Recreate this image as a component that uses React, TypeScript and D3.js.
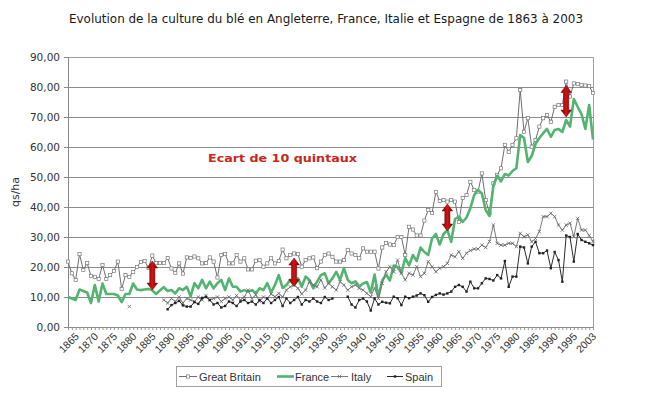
import React, { useRef, useEffect } from 'react';
import * as d3 from 'd3';

// categories: yearly from 1863 to 1995, then the last few available years
const years: string[] = [...d3.range(1863, 1996), 1999, 2000, 2001, 2002, 2003].map(String);

const greatBritain: (number | null)[] = [
    21.8, 17.9, 15.7, 24.3, 19, 21.3, 17, 16.7, 16, 20.7,
    16, 17.3, 18.7, 21.8, 12.7, 17.3, 16.7, 18.3, 20, 21.7,
    22, 19.7, 23.8, 21.3, 21.3, 21.3, 23, 19.5, 18, 21.2,
    17.8, 23.2, 23, 23.5, 22.9, 21.2, 21.3, 23.2, 21.8, 16.5,
    24, 24.3, 21.2, 21.2, 24, 21.8, 22.9, 19.2, 19.2, 22.1,
    22.3, 20.1, 21.2, 22.9, 21.2, 22, 25.8, 22.9, 24, 24.5,
    24.3, 20.1, 22.3, 22.9, 23.2, 19.6, 21.8, 24, 24.5, 23.4,
    21.8, 21.8, 22.3, 25.7, 24.5, 24, 22.9, 26.2, 25.1, 25.1,
    25.1, 19.5, 26.5, 28, 27.5, 27.3, 30, 30, 24, 33.4,
    32.5, 30.5, 30.5, 35.5, 39, 38, 45, 42, 42.3, 41.8,
    42.3, 41.8, 35, 43, 44, 48.4, 45.7, 45.1, 51.2, 42.3,
    37.9, 47.9, 50.7, 52.9, 60.7, 58.4, 60.7, 62.9, 79, 65.1,
    69.6, 60.1, 62.3, 66.8, 69.6, 70.7, 68.4, 73.4, 74, 74,
    81.8, 76.8, 81.2, 81, 80.7, 80.5, 80.3, 78,
];

const france: (number | null)[] = [
    10, 9.5, 9, 12.5, 12, 11.5, 8, 14, 8.5, 14.5,
    11, 11, 11, 10.5, 8.3, 11, 11, 14.5, 12.5, 12.3,
    12.5, 12.7, 12.2, 11, 12.2, 13.3, 12, 12.3, 11.2, 12.9,
    12.3, 13.4, 10.2, 14.6, 12.9, 15.7, 12.9, 15.1, 12.9, 14.6,
    15.7, 12.3, 16.2, 13.4, 13.4, 11.8, 12.3, 11.8, 12.3, 11.2,
    12.9, 12.3, 14.6, 11.5, 14, 17.3, 13, 14, 15.7, 14,
    16.2, 13.4, 16.8, 15.7, 12.9, 15.1, 17.3, 17.9, 14.6, 16.2,
    18.4, 15.7, 19.6, 15.7, 14.6, 15.2, 13.5, 14.5, 15, 11.5,
    17.5, 10, 15.5, 17.5, 15.5, 20.5, 20, 18, 23, 20.5,
    24, 22, 26.5, 25, 24, 29.5, 31, 27.5, 31, 32.3,
    28.4, 36, 36.8, 35, 36.5, 39.6, 44, 45.7, 44.5, 39,
    37, 47, 50.4, 48.5, 51, 50.5, 52, 52.9, 64, 63,
    55, 57, 61, 63, 64.6, 66, 63.4, 65.7, 66, 65,
    69, 66.8, 76, 73.4, 71, 66, 74, 62.5,
];

const italy: (number | null)[] = [
    null, null, null, null, null, null, null, null, null, null,
    null, null, null, null, null, null, 6.8, null, null, null,
    null, null, null, null, null, 9, 8, 9.5, 8.5, 10,
    8, 9.5, 9, 8.5, 10, 9, 10.5, 9, 9.5, 10,
    8.5, 9.5, 10, 9, 10.5, 9, 10, 12.3, 9.5, 10.7,
    8.5, 10, 9.5, 11, 10.1, 11.2, 10, 12.3, 13.4, 14,
    12.9, 11, 12.3, 15.1, 14, 13.4, 15.7, 13, 14.6, 13.4,
    12.3, 15.1, 14, 12.3, 13.4, 14, 12.9, 12.3, 11.2, 10.1,
    13, 9.5, 14.6, 18.4, 20.1, 18.4, 22.3, 17.9, 15.7, 17.9,
    17.3, 20.1, 16.8, 17.9, 21.8, 20.1, 18.4, 19.6, 20.1, 21.2,
    24, 23.4, 25.1, 22.9, 24.6, 25.5, 26, 26, 27.3, 26.5,
    28.5, 34, 27.9, 27.3, 27.3, 27.9, 27.9, 26.8, 31.2, 30.1,
    30.7, 28.4, 29.5, 31.8, 36.8, 36.8, 37.9, 36.8, 34, 32.3,
    34, 34.6, 30.1, 36.2, 32.3, 32.3, 30.5, 28.5,
];

const spain: (number | null)[] = [
    null, null, null, null, null, null, null, null, null, null,
    null, null, null, null, null, null, null, null, null, null,
    null, null, null, null, null, null, 5.9, 7.3, 8, 8.7,
    7.2, 6.8, 6.8, 8.3, 7.7, 9.7, 10, 9, 7.5, 8,
    6.5, 7, 8.5, 8, 7, 8.5, 9, 8, 8.5, 7.5,
    9, 8, 9.5, 8, 9, 10, 7, 9.5, 8, 9,
    10, 7.5, 9, 8.5, 9.5, 8.5, 8, 10, 9, 9.5,
    null, null, null, 10.1, 7.5, 6.5, 9, 9.5, 8.5, 5.5,
    9.5, 7.5, 8.4, 8.1, 7.9, 10.1, 9.6, 7.3, 10.1, 9.6,
    10.1, 10.5, 11.2, 10.6, 8.4, 10, 10.7, 11.2, 10.8, 11.2,
    11.8, 13.4, 14, 13.4, 11.8, 15.1, 12.9, 12.9, 14.6, 16.2,
    16, 15.5, 17.3, 16.2, 22, 13.4, 16.8, 16.8, 26.8, 26.5,
    21.2, 26.8, 28.4, 24.6, 24.6, 25.5, 19.6, 25, 22.3, 15.1,
    30.5, 30, 21.8, 31, 29, 28.4, 27.9, 27.3,
];

const xLabels = [
    '1865', '1870', '1875', '1880', '1885', '1890', '1895', '1900', '1905', '1910',
    '1915', '1920', '1925', '1930', '1935', '1940', '1945', '1950', '1955', '1960',
    '1965', '1970', '1975', '1980', '1985', '1990', '1995', '2003',
];
const yTicks = [0, 10, 20, 30, 40, 50, 60, 70, 80, 90];

// red double arrows showing the 10 quintal gap
const gapArrows = [
    { year: '1885', low: 12.3, high: 22 },
    { year: '1922', low: 13.5, high: 23 },
    { year: '1962', low: 32, high: 41 },
    { year: '1993', low: 70, high: 80.5 },
];

const seriesList = [
    { name: 'Great Britain', values: greatBritain, color: '#6e6e6e', width: 1, marker: 'square' },
    { name: 'France', values: france, color: '#52b46f', width: 2.6, marker: 'none' },
    { name: 'Italy', values: italy, color: '#7a7a7a', width: 1, marker: 'cross' },
    { name: 'Spain', values: spain, color: '#2a2a2a', width: 1, marker: 'dot' },
];

const App: React.FC = () => {
    const svgRef = useRef<SVGSVGElement | null>(null);

    useEffect(() => {
        if (!svgRef.current) return;
        const width = 662;
        const height = 397;
        const left = 68, right = 593, top = 57, bottom = 327;

        const svg = d3.select(svgRef.current);
        svg.selectAll('*').remove();
        svg.attr('width', width).attr('height', height);

        const x = d3.scalePoint<string>().domain(years).range([left, right]);
        const y = d3.scaleLinear().domain([0, 90]).range([bottom, top]);

        // gradient for arrows
        const grad = svg.append('defs').append('linearGradient')
            .attr('id', 'arrowGrad').attr('x1', '0%').attr('x2', '100%');
        grad.append('stop').attr('offset', '0%').attr('stop-color', '#7d0000');
        grad.append('stop').attr('offset', '50%').attr('stop-color', '#d41414');
        grad.append('stop').attr('offset', '100%').attr('stop-color', '#7d0000');

        // title
        svg.append('text')
            .attr('x', 326).attr('y', 23)
            .attr('text-anchor', 'middle')
            .attr('font-family', '"DejaVu Sans Condensed", "DejaVu Sans", sans-serif')
            .attr('font-size', 12)
            .attr('textLength', 514)
            .attr('lengthAdjust', 'spacingAndGlyphs')
            .attr('fill', '#1a1a1a')
            .text('Evolution de la culture du blé en Angleterre, France, Italie et Espagne de 1863 à 2003');

        // gridlines
        svg.append('g').selectAll('line')
            .data(yTicks.filter(t => t > 0))
            .join('line')
            .attr('x1', left).attr('x2', right)
            .attr('y1', d => y(d)).attr('y2', d => y(d))
            .attr('stroke', '#8c8c8c').attr('stroke-width', 1)
            .attr('shape-rendering', 'crispEdges');

        // plot border
        svg.append('rect')
            .attr('x', left).attr('y', top)
            .attr('width', right - left).attr('height', bottom - top)
            .attr('fill', 'none').attr('stroke', '#a0a0a0')
            .attr('shape-rendering', 'crispEdges');

        // y axis
        const yAxis = svg.append('g')
            .attr('transform', `translate(${left},0)`)
            .call(d3.axisLeft(y).tickValues(yTicks).tickSize(4)
                .tickFormat(d => d3.format('.2f')(d as number).replace('.', ',')));
        yAxis.select('.domain').attr('stroke', '#888');
        yAxis.selectAll('.tick line').attr('stroke', '#888');
        yAxis.selectAll('.tick text')
            .attr('font-family', '"DejaVu Sans", sans-serif')
            .attr('font-size', 10.5)
            .attr('fill', '#333')
            .attr('x', -8);

        svg.append('text')
            .attr('transform', 'translate(19,192) rotate(-90)')
            .attr('text-anchor', 'middle')
            .attr('font-family', '"DejaVu Sans", sans-serif')
            .attr('font-size', 11)
            .attr('fill', '#333')
            .text('qs/ha');

        // x axis with a small tick for every category
        const xAxis = svg.append('g')
            .attr('transform', `translate(0,${bottom})`)
            .call(d3.axisBottom(x).tickValues(years).tickSize(3).tickFormat(() => ''));
        xAxis.select('.domain').attr('stroke', '#888');
        xAxis.selectAll('.tick line').attr('stroke', '#999');

        svg.append('g').selectAll('text')
            .data(xLabels)
            .join('text')
            .attr('transform', d => `translate(${(x(d) as number) + 4},${bottom + 10}) rotate(-45)`)
            .attr('text-anchor', 'end')
            .attr('font-family', '"Liberation Sans", Arial, sans-serif')
            .attr('font-size', 10.5)
            .attr('fill', '#333')
            .text(d => d);

        // series
        const line = d3.line<number | null>()
            .defined(d => d !== null)
            .x((_d, i) => x(years[i]) as number)
            .y(d => y(d as number));

        seriesList.forEach(s => {
            const g = svg.append('g');
            g.append('path')
                .datum(s.values)
                .attr('d', line)
                .attr('fill', 'none')
                .attr('stroke', s.color)
                .attr('stroke-width', s.width)
                .attr('stroke-linejoin', 'round');

            const pts = s.values
                .map((v, i) => ({ v, year: years[i] }))
                .filter(p => p.v !== null);

            if (s.marker === 'square') {
                g.selectAll('rect').data(pts).join('rect')
                    .attr('x', p => (x(p.year) as number) - 1.6)
                    .attr('y', p => y(p.v as number) - 1.6)
                    .attr('width', 3.2).attr('height', 3.2)
                    .attr('fill', '#fff').attr('stroke', '#777').attr('stroke-width', 0.7);
            } else if (s.marker === 'cross') {
                g.selectAll('path.m').data(pts).join('path')
                    .attr('class', 'm')
                    .attr('d', p => {
                        const cx = x(p.year) as number;
                        const cy = y(p.v as number);
                        return `M${cx - 1.7},${cy - 1.7}L${cx + 1.7},${cy + 1.7}M${cx - 1.7},${cy + 1.7}L${cx + 1.7},${cy - 1.7}`;
                    })
                    .attr('stroke', '#666').attr('stroke-width', 0.8);
            } else if (s.marker === 'dot') {
                g.selectAll('rect').data(pts).join('rect')
                    .attr('x', p => (x(p.year) as number) - 1.2)
                    .attr('y', p => y(p.v as number) - 1.2)
                    .attr('width', 2.4).attr('height', 2.4)
                    .attr('fill', '#222');
            }
        });

        // arrows
        const sh = 2.6, hh = 5.3, hl = 7;
        svg.append('g').selectAll('path')
            .data(gapArrows)
            .join('path')
            .attr('d', a => {
                const cx = x(a.year) as number;
                const t = y(a.high);
                const b = y(a.low);
                return `M${cx},${t}L${cx + hh},${t + hl}L${cx + sh},${t + hl}L${cx + sh},${b - hl}L${cx + hh},${b - hl}`
                    + `L${cx},${b}L${cx - hh},${b - hl}L${cx - sh},${b - hl}L${cx - sh},${t + hl}L${cx - hh},${t + hl}Z`;
            })
            .attr('fill', 'url(#arrowGrad)')
            .attr('stroke', '#700000')
            .attr('stroke-width', 0.5);

        svg.append('text')
            .attr('x', 208).attr('y', 162)
            .attr('font-family', '"DejaVu Sans", sans-serif')
            .attr('font-weight', 'bold')
            .attr('font-size', 11)
            .attr('textLength', 149)
            .attr('lengthAdjust', 'spacingAndGlyphs')
            .attr('fill', '#c8281c')
            .text('Ecart de 10 quintaux');

        // legend
        const legend = svg.append('g');
        legend.append('rect')
            .attr('x', 176.5).attr('y', 366.5).attr('width', 265).attr('height', 20)
            .attr('fill', '#fff').attr('stroke', '#a0a0a0');
        const ly = 376.5;
        const items = [
            { s: seriesList[0], x1: 179, x2: 197, tx: 199 },
            { s: seriesList[1], x1: 277, x2: 294, tx: 295 },
            { s: seriesList[2], x1: 331, x2: 348, tx: 351 },
            { s: seriesList[3], x1: 387, x2: 403, tx: 405 },
        ];
        items.forEach(it => {
            legend.append('line')
                .attr('x1', it.x1).attr('x2', it.x2).attr('y1', ly).attr('y2', ly)
                .attr('stroke', it.s.color).attr('stroke-width', it.s.width);
            const cx = (it.x1 + it.x2) / 2;
            if (it.s.marker === 'square') {
                legend.append('rect').attr('x', cx - 1.6).attr('y', ly - 1.6).attr('width', 3.2).attr('height', 3.2)
                    .attr('fill', '#fff').attr('stroke', '#777').attr('stroke-width', 0.7);
            } else if (it.s.marker === 'cross') {
                legend.append('path')
                    .attr('d', `M${cx - 1.7},${ly - 1.7}L${cx + 1.7},${ly + 1.7}M${cx - 1.7},${ly + 1.7}L${cx + 1.7},${ly - 1.7}`)
                    .attr('stroke', '#666').attr('stroke-width', 0.8);
            } else if (it.s.marker === 'dot') {
                legend.append('rect').attr('x', cx - 1.2).attr('y', ly - 1.2).attr('width', 2.4).attr('height', 2.4)
                    .attr('fill', '#222');
            }
            legend.append('text')
                .attr('x', it.tx).attr('y', ly + 4)
                .attr('font-family', '"Liberation Sans", Arial, sans-serif')
                .attr('font-size', 11)
                .attr('fill', '#333')
                .text(it.s.name);
        });
    }, []);

    return (
        <div>
            <svg ref={svgRef} style={{ position: 'absolute', left: 0, top: 0, background: '#fff' }} />
        </div>
    );
};

export default App;
